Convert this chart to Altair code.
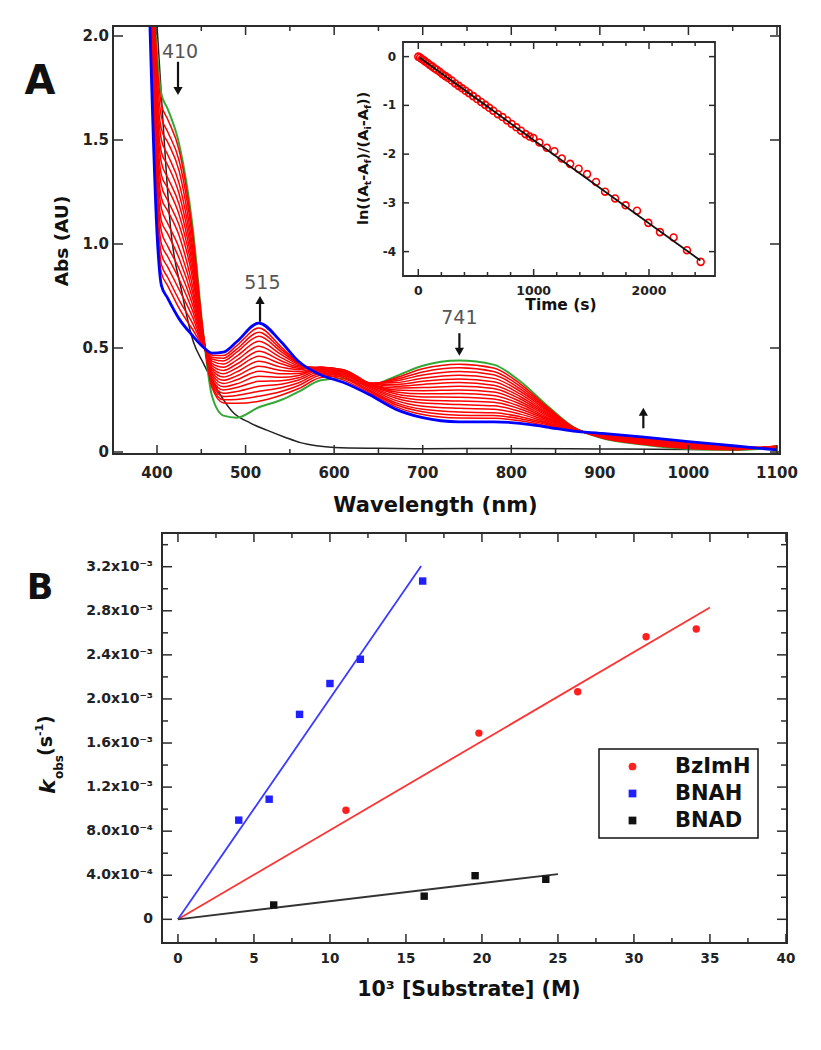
import altair as alt
import pandas as pd

FONT = "DejaVu Sans"
W, H = 805, 1034

# ---------------- Panel A : spectra ----------------
wl_grid = [400, 405, 412, 425, 440, 452, 462, 475, 490, 515, 540, 560, 585, 610,
           640, 670, 700, 741, 780, 810, 840, 870, 900, 950, 1000, 1050, 1100]
top_abs = 2.048

green_top_wl = 398.0
green_abs = [1.92, 1.72, 1.65, 1.48, 1.09, 0.58, 0.27, 0.175, 0.165, 0.215, 0.25, 0.29, 0.345, 0.355,
             0.32, 0.365, 0.415, 0.44, 0.42, 0.34, 0.225, 0.12, 0.07, 0.035, 0.015, 0.01, 0.02]

blue_top_wl = 392.0
blue_abs = [1.05, 0.80, 0.74, 0.64, 0.56, 0.505, 0.475, 0.48, 0.53, 0.62, 0.53, 0.435, 0.37, 0.335,
            0.275, 0.205, 0.165, 0.145, 0.145, 0.138, 0.12, 0.10, 0.09, 0.072, 0.05, 0.03, 0.01]

red_top_wl = [397.5, 397.2, 397.0, 396.7, 396.4, 396.1, 395.8, 395.5,
              395.2, 394.9, 394.6, 394.3, 394.0, 393.7, 393.4, 393.1]
# one row per wavelength of wl_grid, one value per intermediate spectrum
red_by_wl = [
    [1.87, 1.82, 1.76, 1.71, 1.66, 1.61, 1.56, 1.50, 1.45, 1.40, 1.35, 1.29, 1.24, 1.19, 1.15, 1.10],
    [1.67, 1.61, 1.55, 1.50, 1.44, 1.39, 1.33, 1.28, 1.22, 1.17, 1.11, 1.06, 1.00, 0.95, 0.90, 0.86],
    [1.60, 1.54, 1.49, 1.43, 1.38, 1.32, 1.27, 1.21, 1.16, 1.10, 1.05, 0.99, 0.94, 0.89, 0.84, 0.80],
    [1.45, 1.40, 1.35, 1.29, 1.24, 1.19, 1.14, 1.09, 1.04, 0.98, 0.93, 0.88, 0.83, 0.78, 0.73, 0.69],
    [1.06, 1.03, 0.99, 0.96, 0.93, 0.90, 0.87, 0.84, 0.80, 0.77, 0.74, 0.71, 0.68, 0.65, 0.62, 0.59],
    [0.575, 0.571, 0.567, 0.562, 0.558, 0.553, 0.549, 0.544, 0.540, 0.535, 0.531, 0.526, 0.522, 0.517, 0.513, 0.510],
    [0.311, 0.321, 0.332, 0.342, 0.353, 0.363, 0.374, 0.384, 0.395, 0.405, 0.416, 0.426, 0.437, 0.447, 0.456, 0.465],
    [0.236, 0.251, 0.267, 0.282, 0.298, 0.314, 0.329, 0.345, 0.360, 0.376, 0.392, 0.407, 0.423, 0.438, 0.451, 0.464],
    [0.234, 0.253, 0.272, 0.291, 0.310, 0.328, 0.347, 0.366, 0.385, 0.404, 0.423, 0.442, 0.461, 0.480, 0.495, 0.511],
    [0.244, 0.268, 0.292, 0.316, 0.340, 0.364, 0.388, 0.412, 0.436, 0.460, 0.484, 0.508, 0.532, 0.556, 0.576, 0.596],
    [0.273, 0.291, 0.309, 0.326, 0.343, 0.359, 0.376, 0.392, 0.408, 0.424, 0.439, 0.454, 0.469, 0.483, 0.495, 0.506],
    [0.305, 0.320, 0.333, 0.346, 0.357, 0.368, 0.378, 0.387, 0.396, 0.403, 0.409, 0.415, 0.420, 0.424, 0.427, 0.429],
    [0.358, 0.369, 0.379, 0.387, 0.395, 0.400, 0.404, 0.407, 0.408, 0.408, 0.406, 0.403, 0.399, 0.393, 0.387, 0.380],
    [0.365, 0.374, 0.381, 0.386, 0.391, 0.394, 0.396, 0.395, 0.394, 0.391, 0.387, 0.381, 0.373, 0.365, 0.357, 0.347],
    [0.324, 0.328, 0.330, 0.331, 0.331, 0.332, 0.330, 0.328, 0.326, 0.322, 0.317, 0.312, 0.306, 0.298, 0.292, 0.285],
    [0.357, 0.350, 0.342, 0.334, 0.325, 0.316, 0.308, 0.298, 0.289, 0.279, 0.268, 0.258, 0.247, 0.236, 0.227, 0.217],
    [0.400, 0.385, 0.370, 0.355, 0.340, 0.325, 0.310, 0.295, 0.280, 0.265, 0.250, 0.235, 0.220, 0.205, 0.193, 0.180],
    [0.422, 0.405, 0.387, 0.369, 0.351, 0.334, 0.316, 0.298, 0.281, 0.263, 0.245, 0.228, 0.210, 0.192, 0.177, 0.163],
    [0.404, 0.387, 0.371, 0.354, 0.338, 0.321, 0.305, 0.288, 0.272, 0.255, 0.239, 0.222, 0.206, 0.189, 0.175, 0.162],
    [0.328, 0.316, 0.304, 0.292, 0.279, 0.267, 0.255, 0.243, 0.231, 0.219, 0.207, 0.195, 0.182, 0.170, 0.160, 0.150],
    [0.219, 0.212, 0.206, 0.200, 0.193, 0.187, 0.181, 0.175, 0.168, 0.162, 0.156, 0.149, 0.143, 0.137, 0.132, 0.126],
    [0.119, 0.118, 0.116, 0.115, 0.114, 0.113, 0.112, 0.110, 0.109, 0.108, 0.107, 0.106, 0.104, 0.103, 0.102, 0.101],
    [0.071, 0.072, 0.074, 0.075, 0.076, 0.077, 0.078, 0.080, 0.081, 0.082, 0.083, 0.084, 0.086, 0.087, 0.088, 0.089],
    [0.037, 0.039, 0.042, 0.044, 0.046, 0.048, 0.051, 0.053, 0.055, 0.057, 0.059, 0.062, 0.064, 0.066, 0.068, 0.070],
    [0.017, 0.019, 0.021, 0.023, 0.026, 0.028, 0.030, 0.032, 0.034, 0.036, 0.038, 0.040, 0.042, 0.044, 0.046, 0.048],
    [0.011, 0.012, 0.014, 0.015, 0.016, 0.017, 0.018, 0.020, 0.021, 0.022, 0.023, 0.024, 0.026, 0.027, 0.028, 0.029],
    [0.030, 0.029, 0.028, 0.027, 0.026, 0.025, 0.024, 0.023, 0.022, 0.021, 0.020, 0.019, 0.018, 0.017, 0.016, 0.015],
]

black_wl = [400, 407, 415, 428, 441, 452, 464, 486, 505, 524, 545, 562, 580, 600, 650, 700, 800, 900, 1000, 1020]
black_abs = [2.048, 1.57, 1.09, 0.77, 0.53, 0.43, 0.33, 0.19, 0.14, 0.105, 0.07, 0.045, 0.03, 0.022,
             0.018, 0.016, 0.017, 0.015, 0.012, 0.012]

annot_text = ["410", "515", "741"]
annot_wl = [426.0, 518.9, 741.4]
annot_abs = [1.923, 0.814, 0.643]

arrow_wl = [423.7, 516.3, 741.4, 949.1]
arrow_tail_abs = [1.876, 0.626, 0.571, 0.114]
arrow_head_abs = [1.736, 0.731, 0.482, 0.194]
arrow_dir = ["down", "up", "down", "up"]

A_x_major = [400, 500, 600, 700, 800, 900, 1000, 1100]
A_x_labels = ["400", "500", "600", "700", "800", "900", "1000", "1100"]
A_x_minor = [450, 550, 650, 750, 850, 950, 1050]
A_y_major = [0, 0.5, 1.0, 1.5, 2.0]
A_y_labels = ["0", "0.5", "1.0", "1.5", "2.0"]

# ---------------- Inset : first-order plot ----------------
inset_t = [0, 15, 30, 45, 60, 80, 100, 120, 140, 160, 185, 210, 235, 260, 290, 320, 350, 380, 410,
           440, 475, 510, 545, 580, 615, 650, 690, 730, 770, 810, 850, 890, 930, 965, 998, 1050,
           1114, 1180, 1244, 1316, 1390, 1463, 1541, 1619, 1706, 1797, 1896, 1994, 2095, 2213, 2329, 2448]
inset_ln = [0.0, -0.02, -0.05, -0.07, -0.10, -0.13, -0.17, -0.20, -0.24, -0.27, -0.31, -0.36, -0.40,
            -0.44, -0.49, -0.55, -0.60, -0.65, -0.70, -0.75, -0.81, -0.87, -0.93, -0.99, -1.05, -1.11,
            -1.18, -1.24, -1.31, -1.38, -1.45, -1.52, -1.59, -1.64, -1.67, -1.76, -1.87, -1.94, -2.09,
            -2.20, -2.30, -2.41, -2.57, -2.77, -2.91, -3.05, -3.16, -3.41, -3.60, -3.71, -3.97, -4.21]
inset_fit_t = [10, 2445]
inset_fit_ln = [-0.02, -4.18]
I_x_major = [0, 1000, 2000]
I_x_labels = ["0", "1000", "2000"]
I_x_minor = [200, 400, 600, 800, 1200, 1400, 1600, 1800, 2200, 2400]
I_y_major = [0, -1, -2, -3, -4]
I_y_labels = ["0", "-1", "-2", "-3", "-4"]

# ---------------- Panel B : kobs vs [substrate] ----------------
series_names = ["BzImH", "BNAH", "BNAD"]
series_colors = ["#ff1f1f", "#1f1fff", "#111111"]
series_shapes = ["circle", "square", "square"]
bzimh_conc = [11.05, 19.8, 26.3, 30.8, 34.1]
bzimh_kobs = [0.99e-3, 1.69e-3, 2.065e-3, 2.565e-3, 2.635e-3]
bnah_conc = [4.0, 6.0, 8.0, 10.0, 12.0, 16.1]
bnah_kobs = [0.90e-3, 1.09e-3, 1.86e-3, 2.14e-3, 2.36e-3, 3.07e-3]
bnad_conc = [6.3, 16.2, 19.55, 24.2]
bnad_kobs = [0.13e-3, 0.21e-3, 0.396e-3, 0.363e-3]
fit_x_end = [35.0, 16.0, 25.0]
fit_k_end = [2.83e-3, 3.206e-3, 0.411e-3]
fit_colors = ["#ff3333", "#3b3bff", "#333333"]

B_x_major = [0, 5, 10, 15, 20, 25, 30, 35, 40]
B_x_labels = ["0", "5", "10", "15", "20", "25", "30", "35", "40"]
B_x_minor = [2.5, 7.5, 12.5, 17.5, 22.5, 27.5, 32.5, 37.5]
B_y_major = [0, 0.0004, 0.0008, 0.0012, 0.0016, 0.0020, 0.0024, 0.0028, 0.0032]
B_y_labels = ["0", "4.0x10⁻⁴", "8.0x10⁻⁴", "1.2x10⁻³", "1.6x10⁻³", "2.0x10⁻³",
              "2.4x10⁻³", "2.8x10⁻³", "3.2x10⁻³"]
B_y_minor = [0.0002, 0.0006, 0.0010, 0.0014, 0.0018, 0.0022, 0.0026, 0.0030, 0.0034]

# ---------------- scales (pixel ranges place the three plots) ----------------
xA = alt.Scale(domain=[350.3, 1103.4], range=[105, 772], nice=False, zero=False)
yA = alt.Scale(domain=[-0.0096, 2.048], range=[446, 18], nice=False, zero=False)
xI = alt.Scale(domain=[-132.6, 2572], range=[395, 707], nice=False, zero=False)
yI = alt.Scale(domain=[-4.50, 0.30], range=[268, 34], nice=False, zero=False)
xB = alt.Scale(domain=[-1.05, 40.07], range=[154, 779], nice=False, zero=False)
yB = alt.Scale(domain=[-0.000215, 0.003506], range=[935, 525], nice=False, zero=False)

dummy = pd.DataFrame({"d": [0]})
TICK = "#2b2b2b"
LABEL = "#222222"


def xticks(vals, scale, y0, y1):
    return alt.Chart(pd.DataFrame({"v": vals})).mark_rule(color=TICK, strokeWidth=1.5).encode(
        x=alt.X("v:Q", scale=scale, axis=None), y=alt.value(y0), y2=alt.value(y1))


def yticks(vals, scale, x0, x1):
    return alt.Chart(pd.DataFrame({"v": vals})).mark_rule(color=TICK, strokeWidth=1.5).encode(
        y=alt.Y("v:Q", scale=scale, axis=None), x=alt.value(x0), x2=alt.value(x1))


def xlabels(vals, labels, scale, y, size):
    return alt.Chart(pd.DataFrame({"v": vals, "l": labels})).mark_text(
        font=FONT, fontWeight="bold", fontSize=size, color=LABEL, align="center", baseline="middle"
    ).encode(x=alt.X("v:Q", scale=scale, axis=None), y=alt.value(y), text="l:N")


def ylabels(vals, labels, scale, x, size):
    return alt.Chart(pd.DataFrame({"v": vals, "l": labels})).mark_text(
        font=FONT, fontWeight="bold", fontSize=size, color=LABEL, align="right", baseline="middle"
    ).encode(y=alt.Y("v:Q", scale=scale, axis=None), x=alt.value(x), text="l:N")


# ---------- Panel A layers ----------
red_rows = []
for k in range(len(red_top_wl)):
    red_rows.append({"curve": k, "wl": red_top_wl[k], "a": top_abs})
    for i, w in enumerate(wl_grid):
        red_rows.append({"curve": k, "wl": w, "a": red_by_wl[i][k]})
red_df = pd.DataFrame(red_rows)
green_df = pd.DataFrame({"wl": [green_top_wl] + wl_grid, "a": [top_abs] + green_abs})
blue_df = pd.DataFrame({"wl": [blue_top_wl] + wl_grid, "a": [top_abs] + blue_abs})
black_df = pd.DataFrame({"wl": black_wl, "a": black_abs})

xa = lambda: alt.X("wl:Q", scale=xA, axis=None)
ya = lambda: alt.Y("a:Q", scale=yA, axis=None)

black_line = alt.Chart(black_df).mark_line(color="#222222", strokeWidth=1.5, interpolate="monotone").encode(
    x=xa(), y=ya())
green_line = alt.Chart(green_df).mark_line(color="#34a834", strokeWidth=2.0, interpolate="monotone").encode(
    x=xa(), y=ya())
red_lines = alt.Chart(red_df).mark_line(color="#ff0000", strokeWidth=1.5, interpolate="monotone").encode(
    x=xa(), y=ya(), detail="curve:N")
blue_line = alt.Chart(blue_df).mark_line(color="#0000ff", strokeWidth=2.8, interpolate="monotone").encode(
    x=xa(), y=ya())

annot_df = pd.DataFrame({"wl": annot_wl, "a": annot_abs, "t": annot_text})
annot = alt.Chart(annot_df).mark_text(font=FONT, fontSize=19, color="#555555", baseline="middle").encode(
    x=xa(), y=ya(), text="t:N")

arrow_df = pd.DataFrame({"wl": arrow_wl, "tail": arrow_tail_abs, "head": arrow_head_abs, "dir": arrow_dir})
arrow_shaft = alt.Chart(arrow_df).mark_rule(color="#111111", strokeWidth=2.2).encode(
    x=xa(), y=alt.Y("tail:Q", scale=yA, axis=None), y2="head:Q")
arrow_down = alt.Chart(arrow_df).transform_filter("datum.dir == 'down'").mark_point(
    shape="triangle-down", filled=True, color="#111111", size=85, opacity=1).encode(
    x=xa(), y=alt.Y("head:Q", scale=yA, axis=None))
arrow_up = alt.Chart(arrow_df).transform_filter("datum.dir == 'up'").mark_point(
    shape="triangle-up", filled=True, color="#111111", size=85, opacity=1).encode(
    x=xa(), y=alt.Y("head:Q", scale=yA, axis=None))

groupA = alt.layer(
    black_line, green_line, red_lines, blue_line, annot, arrow_shaft, arrow_down, arrow_up,
    xticks(A_x_major, xA, 446, 437), xticks(A_x_minor, xA, 446, 441),
    xticks(A_x_major, xA, 18, 27), xticks(A_x_minor, xA, 18, 23),
    yticks(A_y_major, yA, 105, 115), yticks(A_y_major, yA, 772, 762),
    xlabels(A_x_major, A_x_labels, xA, 465, 15),
    ylabels(A_y_major, A_y_labels, yA, 101, 15),
)

# ---------- Inset layers ----------
inset_df = pd.DataFrame({"t": inset_t, "v": inset_ln})
fit_df = pd.DataFrame({"t": inset_fit_t, "v": inset_fit_ln})
inset_pts = alt.Chart(inset_df).mark_point(shape="circle", filled=False, color="#ff0000", size=48,
                                           strokeWidth=1.6, opacity=1).encode(
    x=alt.X("t:Q", scale=xI, axis=None), y=alt.Y("v:Q", scale=yI, axis=None))
inset_fit = alt.Chart(fit_df).mark_line(color="#111111", strokeWidth=1.8).encode(
    x=alt.X("t:Q", scale=xI, axis=None), y=alt.Y("v:Q", scale=yI, axis=None))
groupI = alt.layer(
    inset_pts, inset_fit,
    xticks(I_x_major, xI, 268, 261), xticks(I_x_minor, xI, 268, 264),
    xticks(I_x_major, xI, 34, 41), xticks(I_x_minor, xI, 34, 38),
    yticks(I_y_major, yI, 395, 401), yticks(I_y_major, yI, 707, 701),
    xlabels(I_x_major, I_x_labels, xI, 283, 12.5),
    ylabels(I_y_major, I_y_labels, yI, 388, 12),
)

# ---------- Panel B layers ----------
pts_rows = []
for name, xs, ks in [("BzImH", bzimh_conc, bzimh_kobs), ("BNAH", bnah_conc, bnah_kobs),
                     ("BNAD", bnad_conc, bnad_kobs)]:
    for xv, kv in zip(xs, ks):
        pts_rows.append({"series": name, "conc": xv, "kobs": kv})
pts_df = pd.DataFrame(pts_rows)

legendB = alt.Legend(orient="none", legendX=591, legendY=741, title=None, labelFont=FONT,
                     labelFontSize=21, labelFontWeight="bold", labelColor="#111",
                     symbolSize=60, symbolStrokeWidth=0, labelOffset=32, padding=7,
                     rowPadding=5, symbolOffset=16, strokeColor="#111")

fit_layers = []
for name, xe, ke, col in zip(series_names, fit_x_end, fit_k_end, fit_colors):
    fdf = pd.DataFrame({"conc": [0.0, xe], "kobs": [0.0, ke]})
    fit_layers.append(alt.Chart(fdf).mark_line(color=col, strokeWidth=1.8).encode(
        x=alt.X("conc:Q", scale=xB, axis=None), y=alt.Y("kobs:Q", scale=yB, axis=None)))

pointsB = alt.Chart(pts_df).mark_point(filled=True, size=55, opacity=1).encode(
    x=alt.X("conc:Q", scale=xB, axis=None),
    y=alt.Y("kobs:Q", scale=yB, axis=None),
    color=alt.Color("series:N", scale=alt.Scale(domain=series_names, range=series_colors), legend=legendB),
    shape=alt.Shape("series:N", scale=alt.Scale(domain=series_names, range=series_shapes), legend=legendB),
)
groupB = alt.layer(
    *fit_layers, pointsB,
    xticks(B_x_major, xB, 935, 926), xticks(B_x_minor, xB, 935, 930),
    xticks(B_x_major, xB, 525, 534), xticks(B_x_minor, xB, 525, 530),
    yticks(B_y_major, yB, 154, 164), yticks(B_y_minor, yB, 154, 160),
    yticks(B_y_major, yB, 779, 769), yticks(B_y_minor, yB, 779, 773),
    xlabels(B_x_major, B_x_labels, xB, 951, 13.5),
    ylabels(B_y_major, B_y_labels, yB, 145, 14),
)

# ---------- frames, panel letters, axis titles ----------
def frame(x0, x1, y0, y1, w):
    return alt.Chart(dummy).mark_rect(fillOpacity=0, stroke="#2b2b2b", strokeWidth=w).encode(
        x=alt.value(x0), x2=alt.value(x1), y=alt.value(y0), y2=alt.value(y1))


def label(text, x, y, size, **kw):
    return alt.Chart(dummy).mark_text(text=text, font=FONT, fontSize=size, fontWeight="bold",
                                      color="#111", **kw).encode(x=alt.value(x), y=alt.value(y))


def rotated_pieces(x, y, pieces):
    out = []
    for text, size, dx, dy, style in pieces:
        out.append(label(text, x, y, size, angle=270, align="left", baseline="alphabetic",
                         dx=dx, dy=dy, fontStyle=style))
    return out


kobs_title = rotated_pieces(47, 786, [
    ("k", 22, 0, 0, "italic"), ("obs", 12, 15, 8, "normal"), ("(s", 19, 38, -3, "normal"),
    ("-1", 11, 58, -12, "normal"), (")", 19, 70, -3, "normal")])
ln_title = rotated_pieces(360, 217, [
    ("ln((A", 14.5, 0, 0, "normal"), ("t", 9.5, 39.8, 3, "normal"), ("-A", 14.5, 44.3, 0, "normal"),
    ("f", 9.5, 61.5, 3, "normal"), (")/(A", 14.5, 65.6, 0, "normal"), ("i", 9.5, 95.4, 3, "normal"),
    ("-A", 14.5, 98.7, 0, "normal"), ("f", 9.5, 115.9, 3, "normal"), ("))", 14.5, 120.0, 0, "normal")])

deco = alt.layer(
    frame(105, 772, 18, 446, 2), frame(395, 707, 34, 268, 1.8), frame(154, 779, 525, 935, 2),
    label("A", 32, 74, 40, align="center", baseline="middle"),
    label("B", 32, 580, 35, align="center", baseline="middle"),
    label("Wavelength (nm)", 427.5, 498, 21, align="center", baseline="middle"),
    label("Abs (AU)", 60, 233, 18.5, align="center", baseline="alphabetic", angle=270),
    label("Time (s)", 553, 297, 15.5, align="center", baseline="middle"),
    label("10³ [Substrate] (M)", 461, 982, 20.5, align="center", baseline="middle"),
    *kobs_title, *ln_title,
)

chart = alt.layer(groupA, groupI, groupB, deco).resolve_scale(
    x="independent", y="independent").properties(
    width=W, height=H, autosize=alt.AutoSizeParams(type="none"), padding=0
).configure_view(strokeWidth=0).configure_legend(strokeWidth=1.5)

chart.save("out.html", embed_options={"renderer": "svg", "actions": False})
